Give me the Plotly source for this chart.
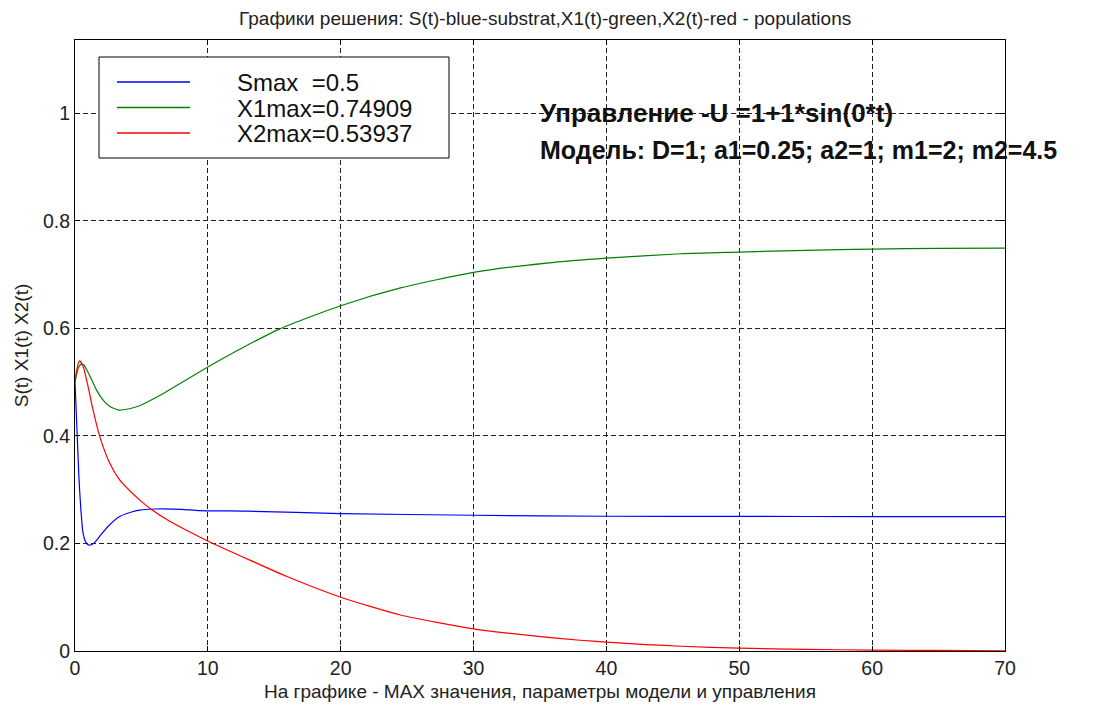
import plotly.graph_objects as go

# Time samples and solution curves of the chemostat model
t_S = [0, 0.1, 0.2, 0.3, 0.45, 0.6, 0.8, 1.05, 1.4, 1.85, 2.5, 3.36, 4.2, 4.86, 6.0, 8.0,
       9.4, 13.0, 20.0, 30.0, 40.0, 50.0, 60.0, 70.0]
S = [0.5, 0.44, 0.38, 0.32, 0.26, 0.22, 0.203, 0.197, 0.2, 0.213, 0.232, 0.25, 0.258, 0.262,
     0.264, 0.2635, 0.261, 0.26, 0.2555, 0.2524, 0.2505, 0.2502, 0.25, 0.25]

t_X1 = [0, 0.1, 0.25, 0.45, 0.65, 0.9, 1.2, 1.6, 2.1, 2.6, 3.3, 4.0, 4.86, 6.37, 7.88, 9.93,
        12.4, 15.42, 20.0, 24.5, 30.0, 35.5, 40.0, 45.6, 50.0, 55.0, 60.0, 65.0, 70.0]
X1 = [0.5, 0.512, 0.526, 0.533, 0.532, 0.522, 0.507, 0.486, 0.467, 0.455, 0.448, 0.45, 0.456,
      0.475, 0.497, 0.527, 0.561, 0.599, 0.642, 0.675, 0.704, 0.7213, 0.7305, 0.7386, 0.7417,
      0.745, 0.7473, 0.7485, 0.74909]

t_X2 = [0, 0.15, 0.34, 0.6, 1.0, 1.34, 1.85, 2.6, 3.36, 4.2, 4.86, 5.6, 7.0, 8.5, 9.95, 13.15,
        16.0, 20.0, 24.5, 30.0, 34.5, 38.0, 40.0, 43.0, 45.6, 50.0, 55.0, 60.0, 65.0, 70.0]
X2 = [0.5, 0.525, 0.53937, 0.53, 0.49, 0.45, 0.40, 0.35, 0.318, 0.296, 0.281, 0.266, 0.243,
      0.223, 0.205, 0.169, 0.138, 0.1, 0.067, 0.041, 0.028, 0.02, 0.0165, 0.012, 0.0088, 0.0052,
      0.003, 0.0017, 0.001, 0.0005]

x_ticks = [0, 10, 20, 30, 40, 50, 60, 70]
y_ticks = [0, 0.2, 0.4, 0.6, 0.8, 1.0]
y_tick_text = ["0", "0.2", "0.4", "0.6", "0.8", "1"]

BLUE, GREEN, RED = "#0000FF", "#008000", "#FF0000"
FONT = "Liberation Sans, Arial, sans-serif"

series = [
    ("S", t_S, S, BLUE, "Smax  ="),
    ("X1", t_X1, X1, GREEN, "X1max="),
    ("X2", t_X2, X2, RED, "X2max="),
]

fig = go.Figure()
for name, tx, vy, color, _ in series:
    fig.add_trace(go.Scatter(x=tx, y=vy, mode="lines", name=name,
                             line=dict(color=color, width=1.2, shape="spline", smoothing=0.6),
                             showlegend=False))

# Plot area geometry (pixels) used to place the hand-drawn legend box
W, H = 1095, 711
L, R, T, B = 75, 90, 40, 60
pw, ph = W - L - R, H - T - B


def px(x):
    return (x - L) / pw


def py(y):
    return (H - B - y) / ph


LEG_ROW = 25.5          # pixel spacing between legend rows
LEG_MID = 107.5         # pixel centre of the middle legend row

shapes = [dict(type="rect", xref="paper", yref="paper",
               x0=px(99), x1=px(449), y0=py(158), y1=py(57),
               line=dict(color="black", width=1), fillcolor="white", layer="above")]
legend_lines = []
for i, (name, tx, vy, color, label) in enumerate(series):
    yr = LEG_MID + (i - 1) * LEG_ROW
    shapes.append(dict(type="line", xref="paper", yref="paper",
                       x0=px(117), x1=px(190), y0=py(yr), y1=py(yr),
                       line=dict(color=color, width=1.5), layer="above"))
    legend_lines.append(f'<span style="font-size:24px">{label}{max(vy):.5g}</span>')

annotations = [
    # legend labels as one block; base size sets the row pitch
    dict(xref="paper", yref="paper", x=px(235), y=py(LEG_MID + 1),
         xanchor="left", yanchor="middle", align="left", showarrow=False,
         text="<br>".join(legend_lines),
         font=dict(family=FONT, size=LEG_ROW / 1.3, color="#111")),
    dict(xref="paper", yref="paper", x=px(538), y=py(113), xanchor="left", yanchor="middle",
         showarrow=False, text="<b>Управление -U =1+1*sin(0*t)</b>",
         font=dict(family=FONT, size=26, color="#111")),
    dict(xref="paper", yref="paper", x=px(538), y=py(150), xanchor="left", yanchor="middle",
         showarrow=False, text="<b>Модель: D=1; a1=0.25; a2=1; m1=2; m2=4.5</b>",
         font=dict(family=FONT, size=25, color="#111")),
]

axis_common = dict(
    showline=True, linecolor="black", linewidth=1, mirror="ticks",
    ticks="inside", ticklen=5, tickcolor="black",
    showgrid=True, gridcolor="#222", gridwidth=1, griddash="5px,3px",
    zeroline=False, tickfont=dict(family=FONT, size=19.5, color="#222"),
)

fig.update_layout(
    width=W, height=H,
    margin=dict(l=L, r=R, t=T, b=B),
    paper_bgcolor="white", plot_bgcolor="white",
    title=dict(text="Графики решения: S(t)-blue-substrat,X1(t)-green,X2(t)-red - populations",
               x=px(538), xanchor="center", y=1 - 18 / H, yanchor="middle",
               font=dict(family=FONT, size=19, color="#222")),
    xaxis=dict(range=[0, 70], tickvals=x_ticks,
               title=dict(text="На графике - MAX значения, параметры модели и управления",
                          font=dict(family=FONT, size=19, color="#222"), standoff=6),
               **axis_common),
    yaxis=dict(range=[0, 1.136], tickvals=y_ticks, ticktext=y_tick_text,
               title=dict(text="S(t) X1(t) X2(t)",
                          font=dict(family=FONT, size=19, color="#222"), standoff=9),
               **axis_common),
    shapes=shapes,
    annotations=annotations,
    showlegend=False,
)

fig.write_html("out.html")
